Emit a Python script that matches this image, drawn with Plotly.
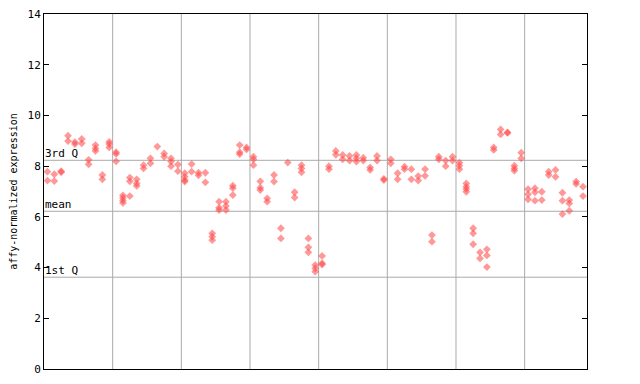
import plotly.graph_objects as go

# expression values per sample column, grouped as in the chart (8 groups)
group1 = [[7.78, 7.43], [7.68, 7.41], [7.80, 7.76], [9.20, 8.99], [8.95, 8.87],
          [9.07, 8.90], [8.25, 8.07], [8.83, 8.70, 8.60], [7.65, 7.48], [8.96, 8.87, 8.74]]
group2 = [[8.55, 8.48, 8.19], [6.85, 6.75, 6.65, 6.55], [7.55, 7.40, 6.82], [7.48, 7.32, 7.22],
          [8.04, 7.91], [8.31, 8.11], [8.77], [8.50, 8.37], [8.31, 8.18, 8.00], [8.06, 7.80]]
group3 = [[7.72, 7.58, 7.45, 7.39], [8.08, 7.78], [7.74, 7.64], [7.74, 7.36], [5.35, 5.22, 5.08],
          [6.60, 6.36, 6.27], [6.60, 6.43, 6.27], [7.23, 7.13, 6.86], [8.83, 8.55, 8.47], [8.74, 8.66]]
group4 = [[8.37, 8.27, 8.04], [7.40, 7.15, 7.06], [6.73, 6.60], [7.65, 7.39], [5.55, 5.15],
          [8.14], [6.97, 6.76], [8.04, 7.91, 7.76], [5.15, 4.80, 4.60], [4.10, 3.97, 3.84]]
group5 = [[4.46, 4.17, 4.12], [8.00, 7.88], [8.60, 8.45], [8.44, 8.27], [8.40, 8.22],
          [8.44, 8.31, 8.18], [8.33, 8.22], [7.95, 7.85], [8.40, 8.22], [7.50, 7.45]]
group6 = [[8.27, 8.11], [7.72, 7.48], [7.98, 7.88], [7.88, 7.48], [7.61, 7.43],
          [7.88, 7.62], [5.28, 5.02], [8.37, 8.27], [8.22, 8.00], [8.37, 8.22]]
group7 = [[8.14, 8.02, 7.88], [7.32, 7.19, 7.10, 6.99], [5.55, 5.35, 4.92], [4.60, 4.36],
          [4.72, 4.48, 4.02], [8.74, 8.64], [9.45, 9.25], [9.33, 9.31], [8.02, 7.91, 7.82], [8.53, 8.31]]
group8 = [[7.09, 6.89, 6.69], [7.13, 6.97, 6.64], [6.99, 6.66], [7.78, 7.65], [7.85, 7.58],
          [6.95, 6.64, 6.11], [6.66, 6.53, 6.24], [7.39, 7.30], [7.19, 6.82]]

q3_value = 8.23
mean_value = 6.22
q1_value = 3.62
y_ticks = [0, 2, 4, 6, 8, 10, 12, 14]

groups = [group1, group2, group3, group4, group5, group6, group7, group8]
xs, ys = [], []
col = 0
boundaries = []
for gi, g in enumerate(groups):
    for column in g:
        for v in column:
            xs.append(col)
            ys.append(v)
        col += 1
    if gi < len(groups) - 1:
        boundaries.append(col - 0.5)
n_cols = col

fig = go.Figure()
fig.add_trace(go.Scatter(
    x=xs, y=ys, mode="markers",
    marker=dict(symbol="diamond", size=6, color="rgba(255,70,70,0.55)", line=dict(width=0)),
    hoverinfo="y", showlegend=False))

mono = "DejaVu Sans Mono"
shapes = []
for b in boundaries:
    shapes.append(dict(type="line", xref="x", yref="paper", x0=b, x1=b, y0=0, y1=1,
                       line=dict(color="#aaaaaa", width=1), layer="below"))
for v in [q3_value, mean_value, q1_value]:
    shapes.append(dict(type="line", xref="paper", yref="y", x0=0, x1=1, y0=v, y1=v,
                       line=dict(color="#aaaaaa", width=1), layer="below"))

annotations = []
for label, v in [("3rd Q", q3_value), ("mean", mean_value), ("1st Q", q1_value)]:
    annotations.append(dict(x=0, xref="paper", y=v, yref="y", text=label, showarrow=False,
                            xanchor="left", yanchor="bottom", xshift=-1, yshift=-2,
                            font=dict(family=mono, size=11, color="#000")))

fig.update_layout(
    width=640, height=384,
    margin=dict(l=44, r=53, t=14, b=15, autoexpand=False),
    plot_bgcolor="white", paper_bgcolor="white",
    shapes=shapes, annotations=annotations,
    xaxis=dict(range=[-0.5, n_cols - 0.42], showgrid=False, zeroline=False,
               showticklabels=False, ticks="", showline=True, linecolor="black",
               linewidth=1, mirror=True, automargin=False),
    yaxis=dict(range=[0, 14], tickvals=y_ticks, showgrid=False, zeroline=False,
               ticks="inside", ticklen=5, tickcolor="black", showline=True,
               linecolor="black", linewidth=1, mirror="ticks", automargin=False,
               tickfont=dict(family=mono, size=11, color="#000"),
               title=dict(text="affy-normalized expression", standoff=8,
                          font=dict(family=mono, size=10, color="#000"))),
)

fig.write_html("out.html", config={"displayModeBar": False},
               post_script="document.body.style.margin='0';")
